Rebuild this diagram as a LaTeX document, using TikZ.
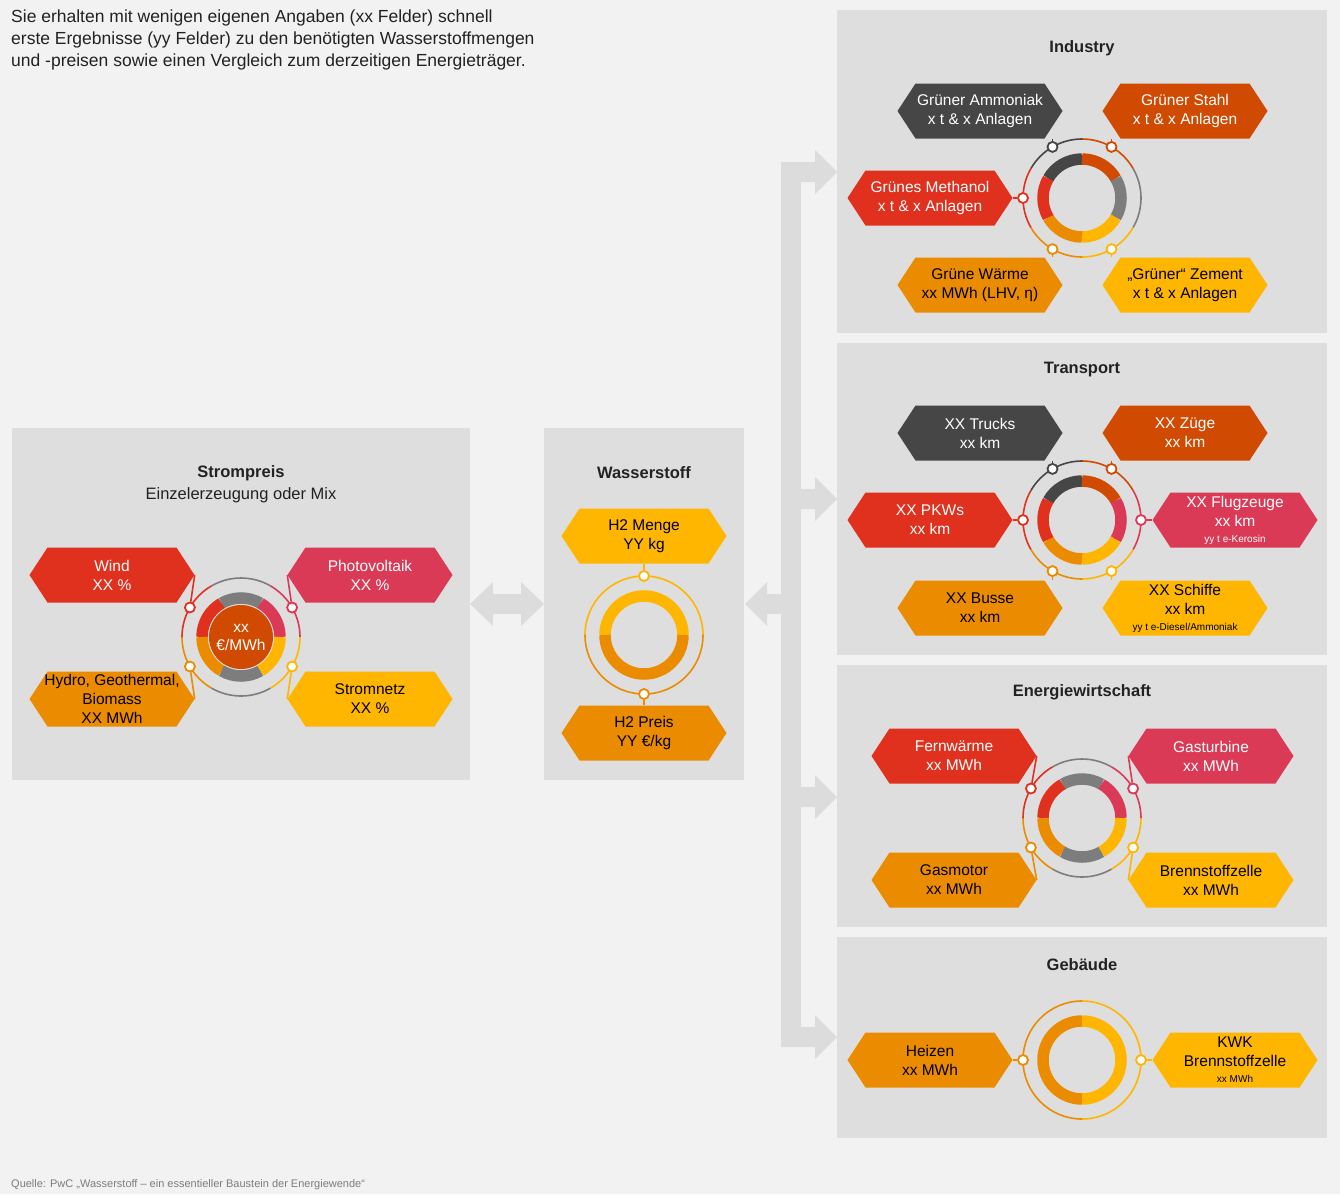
\documentclass[tikz,border=0pt]{standalone}
\usepackage{fontspec}
\setmainfont{Liberation Sans}
\usetikzlibrary{calc}
\definecolor{bg}{HTML}{F2F2F2}
\definecolor{panel}{HTML}{DEDEDE}
\definecolor{arr}{HTML}{DCDCDC}
\definecolor{cred}{HTML}{E0301E}
\definecolor{cpink}{HTML}{DB3A56}
\definecolor{cdor}{HTML}{D04A02}
\definecolor{cor}{HTML}{EB8C00}
\definecolor{cyel}{HTML}{FFB600}
\definecolor{cdg}{HTML}{464646}
\definecolor{cgr}{HTML}{7D7D7D}
\definecolor{ctext}{HTML}{222222}
\newcommand\ringseg[5]{\draw[#5,line width=11.5pt] ([shift={(-#3:39)}]#1,#2) arc[start angle=-#3,end angle=-#4,radius=39];}
\newcommand\outseg[5]{\draw[#5,line width=1.6pt] ([shift={(-#3:59)}]#1,#2) arc[start angle=-#3,end angle=-#4,radius=59];}
\newcommand\bothseg[5]{\ringseg{#1}{#2}{#3}{#4}{#5}\outseg{#1}{#2}{#3}{#4}{#5}}
\tikzset{
 hexa/.style={minimum width=165pt, minimum height=55pt, inner sep=0pt, align=center,
   font=\fontsize{15.5}{19}\selectfont,
   path picture={\fill[#1] (path picture bounding box.west) -- ([xshift=18pt]path picture bounding box.north west) -- ([xshift=-18pt]path picture bounding box.north east) -- (path picture bounding box.east) -- ([xshift=-18pt]path picture bounding box.south east) -- ([xshift=18pt]path picture bounding box.south west) -- cycle;}},
 dot/.style={circle, draw=#1, line width=1.8pt, fill=white, inner sep=0pt, minimum size=10pt},
 conn/.style={#1, line width=1.6pt},
 title/.style={font=\bfseries\fontsize{16.5}{20}\selectfont, text=ctext},
}
\begin{document}
\begin{tikzpicture}[x=1pt,y=-1pt]
\fill[bg] (0,0) rectangle (1340,1194);
\useasboundingbox (0,0) rectangle (1340,1194);
% panels
\fill[panel] (12,428) rectangle (470,780);
\fill[panel] (544,428) rectangle (744,780);
\fill[panel] (837,10) rectangle (1327,333);
\fill[panel] (837,343) rectangle (1327,655);
\fill[panel] (837,665) rectangle (1327,927);
\fill[panel] (837,937) rectangle (1327,1138);
% arrows
\fill[arr] (781,162) rectangle (801,1047);
\foreach \yy in {172,499,797,1037}{
 \fill[arr] (781,\yy-10) -- (815,\yy-10) -- (815,\yy-22) -- (837,\yy) -- (815,\yy+22) -- (815,\yy+10) -- (781,\yy+10) -- cycle;}
\fill[arr] (781,594) -- (767,594) -- (767,582) -- (745,604) -- (767,626) -- (767,614) -- (781,614) -- cycle;
\fill[arr] (470,604) -- (493,582) -- (493,594) -- (521,594) -- (521,582) -- (544,604) -- (521,626) -- (521,614) -- (493,614) -- (493,626) -- cycle;
% header text
\node[anchor=north west, align=left, text=ctext, font=\fontsize{17.5}{22}\selectfont, inner sep=0pt] (intro) at (11,10) {Sie erhalten mit wenigen eigenen Angaben (xx Felder) schnell\\erste Ergebnisse (yy Felder) zu den benötigten Wasserstoffmengen\\und -preisen sowie einen Vergleich zum derzeitigen Energieträger.};
\node[anchor=west, text=cgr, font=\fontsize{11}{13}\selectfont, inner sep=0pt] (src) at (11,1185) {Quelle: PwC „Wasserstoff – ein essentieller Baustein der Energiewende“};

% ===== Strompreis
\node[title] (t1) at (241,473) {Strompreis};
\node[text=ctext, font=\fontsize{16.5}{20}\selectfont] (t1b) at (241,495) {Einzelerzeugung oder Mix};
\bothseg{241}{637}{60}{120}{cgr}
\bothseg{241}{637}{120}{180}{cred}
\bothseg{241}{637}{0}{60}{cpink}
\bothseg{241}{637}{180}{240}{cor}
\bothseg{241}{637}{240}{300}{cgr}
\bothseg{241}{637}{300}{360}{cyel}
\node[circle, fill=cdor, minimum size=64pt, inner sep=0pt, text=white, align=center, font=\fontsize{15.5}{18}\selectfont] (sp) at (241,637) {xx\\€/MWh};
\node[hexa=cred, text=white] (wind) at (112,575) {Wind\\XX \%};
\node[hexa=cpink, text=white] (pv) at (370,575) {Photovoltaik\\XX \%};
\node[hexa=cor, text=black] (hydro) at (112,699) {Hydro, Geothermal,\\Biomass\\XX MWh};
\node[hexa=cyel, text=black] (netz) at (370,699) {Stromnetz\\XX \%};
\node[dot=cred] (sd1) at ([shift={(-150:59)}]241,637) {};
\node[dot=cpink] (sd2) at ([shift={(-30:59)}]241,637) {};
\node[dot=cor] (sd3) at ([shift={(150:59)}]241,637) {};
\node[dot=cyel] (sd4) at ([shift={(30:59)}]241,637) {};
\draw[conn=cred] (sd1) -- (wind.east);
\draw[conn=cpink] (sd2) -- (pv.west);
\draw[conn=cor] (sd3) -- (hydro.east);
\draw[conn=cyel] (sd4) -- (netz.west);

% ===== Wasserstoff
\node[title] (t2) at (644,473) {Wasserstoff};
\bothseg{644}{635}{0}{180}{cyel}
\bothseg{644}{635}{180}{360}{cor}
\node[hexa=cyel, text=black] (menge) at (644,536) {H2 Menge\\YY kg};
\node[hexa=cor, text=black] (preis) at (644,733) {H2 Preis\\YY €/kg};
\node[dot=cyel] (wd1) at (644,576) {};
\node[dot=cor] (wd2) at (644,694) {};
\draw[conn=cyel] (wd1) -- (menge.south);
\draw[conn=cor] (wd2) -- (preis.north);

% ===== Industry
\node[title] (t3) at (1082,48) {Industry};
\bothseg{1082}{198}{90}{150}{cdg}
\bothseg{1082}{198}{30}{90}{cdor}
\bothseg{1082}{198}{-30}{30}{cgr}
\bothseg{1082}{198}{-90}{-30}{cyel}
\bothseg{1082}{198}{-150}{-90}{cor}
\bothseg{1082}{198}{150}{210}{cred}
\node[hexa=cdg, text=white] (amm) at (980,111) {Grüner Ammoniak\\x t \& x Anlagen};
\node[hexa=cdor, text=white] (stahl) at (1185,111) {Grüner Stahl\\x t \& x Anlagen};
\node[hexa=cred, text=white] (meth) at (930,198) {Grünes Methanol\\x t \& x Anlagen};
\node[hexa=cor, text=black] (waerme) at (980,285) {Grüne Wärme\\xx MWh (LHV, η)};
\node[hexa=cyel, text=black] (zement) at (1185,285) {„Grüner“ Zement\\x t \& x Anlagen};
\node[dot=cdg] (id1) at ([shift={(-120:59)}]1082,198) {};
\node[dot=cdor] (id2) at ([shift={(-60:59)}]1082,198) {};
\node[dot=cred] (id3) at ([shift={(180:59)}]1082,198) {};
\node[dot=cor] (id4) at ([shift={(120:59)}]1082,198) {};
\node[dot=cyel] (id5) at ([shift={(60:59)}]1082,198) {};
\draw[conn=cdg] (id1) -- (id1 |- amm.south);
\draw[conn=cdor] (id2) -- (id2 |- stahl.south);
\draw[conn=cred] (id3) -- (meth.east);
\draw[conn=cor] (id4) -- (id4 |- waerme.north);
\draw[conn=cyel] (id5) -- (id5 |- zement.north);

% ===== Transport
\node[title] (t4) at (1082,370) {Transport};
\bothseg{1082}{520}{90}{150}{cdg}
\bothseg{1082}{520}{30}{90}{cdor}
\bothseg{1082}{520}{-30}{30}{cpink}
\bothseg{1082}{520}{-90}{-30}{cyel}
\bothseg{1082}{520}{-150}{-90}{cor}
\bothseg{1082}{520}{150}{210}{cred}
\node[hexa=cdg, text=white] (truck) at (980,433) {XX Trucks\\xx km};
\node[hexa=cdor, text=white] (zug) at (1185,433) {XX Züge\\xx km};
\node[hexa=cred, text=white] (pkw) at (930,520) {XX PKWs\\xx km};
\node[hexa=cpink, text=white] (flug) at (1235,520) {XX Flugzeuge\\xx km\\[-3pt]{\fontsize{10}{11}\selectfont yy t e-Kerosin}};
\node[hexa=cor, text=black] (bus) at (980,608) {XX Busse\\xx km};
\node[hexa=cyel, text=black] (schiff) at (1185,608) {XX Schiffe\\xx km\\[-3pt]{\fontsize{10}{11}\selectfont yy t e-Diesel/Ammoniak}};
\node[dot=cdg] (td1) at ([shift={(-120:59)}]1082,520) {};
\node[dot=cdor] (td2) at ([shift={(-60:59)}]1082,520) {};
\node[dot=cred] (td3) at ([shift={(180:59)}]1082,520) {};
\node[dot=cpink] (td4) at ([shift={(0:59)}]1082,520) {};
\node[dot=cor] (td5) at ([shift={(120:59)}]1082,520) {};
\node[dot=cyel] (td6) at ([shift={(60:59)}]1082,520) {};
\draw[conn=cdg] (td1) -- (td1 |- truck.south);
\draw[conn=cdor] (td2) -- (td2 |- zug.south);
\draw[conn=cred] (td3) -- (pkw.east);
\draw[conn=cpink] (td4) -- (flug.west);
\draw[conn=cor] (td5) -- (td5 |- bus.north);
\draw[conn=cyel] (td6) -- (td6 |- schiff.north);

% ===== Energiewirtschaft
\node[title] (t5) at (1082,692) {Energiewirtschaft};
\bothseg{1082}{818}{60}{120}{cgr}
\bothseg{1082}{818}{0}{60}{cpink}
\bothseg{1082}{818}{120}{180}{cred}
\bothseg{1082}{818}{180}{240}{cor}
\bothseg{1082}{818}{240}{300}{cgr}
\bothseg{1082}{818}{300}{360}{cyel}
\node[hexa=cred, text=white] (fern) at (954,756) {Fernwärme\\xx MWh};
\node[hexa=cpink, text=white] (gast) at (1211,756) {Gasturbine\\xx MWh};
\node[hexa=cor, text=black] (gasm) at (954,880) {Gasmotor\\xx MWh};
\node[hexa=cyel, text=black] (bz) at (1211,880) {Brennstoffzelle\\xx MWh};
\node[dot=cred] (ed1) at ([shift={(-150:59)}]1082,818) {};
\node[dot=cpink] (ed2) at ([shift={(-30:59)}]1082,818) {};
\node[dot=cor] (ed3) at ([shift={(150:59)}]1082,818) {};
\node[dot=cyel] (ed4) at ([shift={(30:59)}]1082,818) {};
\draw[conn=cred] (ed1) -- (fern.east);
\draw[conn=cpink] (ed2) -- (gast.west);
\draw[conn=cor] (ed3) -- (gasm.east);
\draw[conn=cyel] (ed4) -- (bz.west);

% ===== Gebäude
\node[title] (t6) at (1082,965) {Gebäude};
\bothseg{1082}{1060}{90}{270}{cor}
\bothseg{1082}{1060}{-90}{90}{cyel}
\node[hexa=cor, text=black] (heiz) at (930,1060) {Heizen\\xx MWh};
\node[hexa=cyel, text=black] (kwk) at (1235,1060) {KWK\\Brennstoffzelle\\[-3pt]{\fontsize{10}{11}\selectfont xx MWh}};
\node[dot=cor] (gd1) at ([shift={(180:59)}]1082,1060) {};
\node[dot=cyel] (gd2) at ([shift={(0:59)}]1082,1060) {};
\draw[conn=cor] (gd1) -- (heiz.east);
\draw[conn=cyel] (gd2) -- (kwk.west);
\end{tikzpicture}
\end{document}
